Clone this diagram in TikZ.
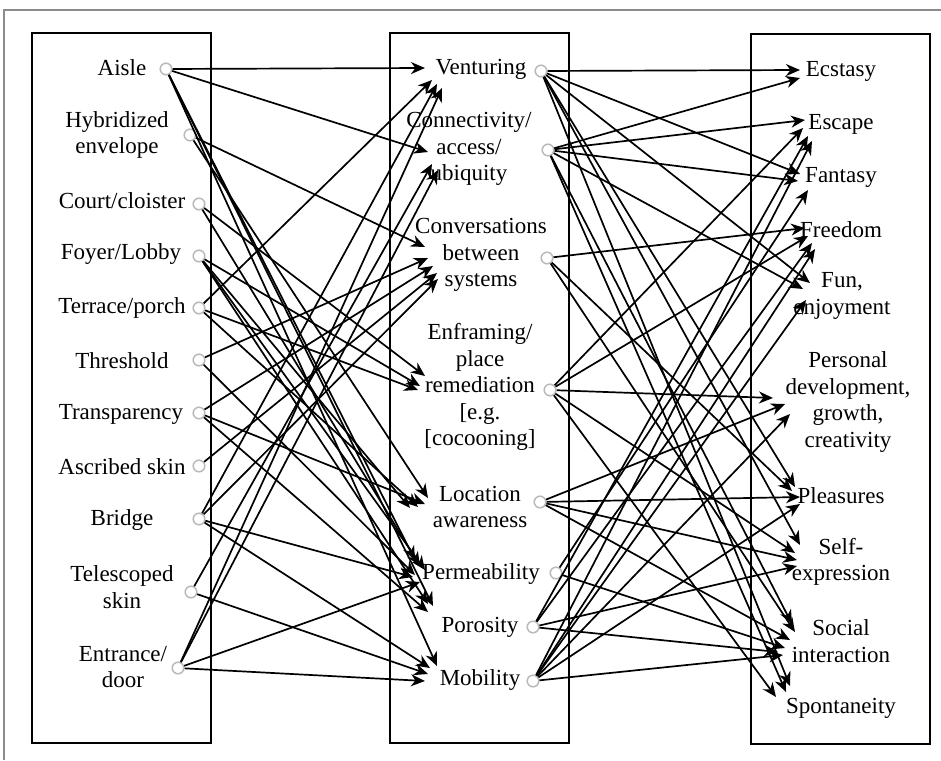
\documentclass[tikz,border=0pt]{standalone}
\usepackage{fontspec}
\setmainfont{Liberation Serif}
\usetikzlibrary{arrows.meta}
\definecolor{portgray}{RGB}{185,185,185}
\definecolor{framegray}{RGB}{140,140,140}
\newcommand\cn[4]{\draw[conn] (#1) -- ([shift={(#3,#4)}]#2);}
\begin{document}
\begin{tikzpicture}[x=0.5pt,y=-0.5pt,
  lbl/.style={align=center,font=\fontsize{11.5}{13.2}\selectfont,inner sep=0pt},
  port/.style={circle,draw=portgray,fill=white,line width=0.75pt,minimum size=5.8pt,inner sep=0pt},
  colbox/.style={draw=black,line width=1pt},
  conn/.style={line width=0.85pt,-{Stealth[length=7pt,width=6pt,inset=2.2pt]}}]
\useasboundingbox (0,0) rectangle (941,760);
\draw[framegray,line width=1pt] (4,760) -- (4,10) -- (941,10);
% columns
\draw[colbox] (32,33) rectangle (211,743);
\draw[colbox] (390,33) rectangle (569,743);
\draw[colbox] (751,34) rectangle (930,744);
% left labels
\node[lbl] (lA)   at (122,68)  {Aisle};
\node[lbl] (lHyb) at (117,135) {Hybridized\\envelope};
\node[lbl] (lCou) at (122,201) {Court/cloister};
\node[lbl] (lFoy) at (121,254) {Foyer/Lobby};
\node[lbl] (lTer) at (122,308) {Terrace/porch};
\node[lbl] (lThr) at (122,361) {Threshold};
\node[lbl] (lTra) at (121,414) {Transparency};
\node[lbl] (lAsc) at (122,467) {Ascribed skin};
\node[lbl] (lBri) at (122,520) {Bridge};
\node[lbl] (lTel) at (122,587) {Telescoped\\skin};
\node[lbl] (lEnt) at (123,667) {Entrance/\\door};
% middle labels
\node[lbl] (mVen)  at (481,69)  {Venturing};
\node[lbl] (mCon)  at (469,149) {Connectivity/\\access/\\ubiquity};
\node[lbl] (mConv) at (481,255) {Conversations\\between\\systems};
\node[lbl] (mEnf)  at (480,387) {Enframing/\\place\\remediation\\{}[e.g.\\{}[cocooning]};
\node[lbl] (mLoc)  at (480,507) {Location\\awareness};
\node[lbl] (mPerm) at (481,574) {Permeability};
\node[lbl] (mPor)  at (480,627) {Porosity};
\node[lbl] (mMob)  at (480,680) {Mobility};
% right labels
\node[lbl] (rEcs) at (841,71)  {Ecstasy};
\node[lbl] (rEsc) at (841,124) {Escape};
\node[lbl] (rFan) at (841,177) {Fantasy};
\node[lbl] (rFre) at (841,230) {Freedom};
\node[lbl] (rFun) at (842,296) {Fun,\\enjoyment};
\node[lbl] (rPer) at (848,402) {Personal\\development,\\growth,\\creativity};
\node[lbl] (rPle) at (841,496) {Pleasures};
\node[lbl] (rSel) at (841,562) {Self-\\expression};
\node[lbl] (rSoc) at (841,641) {Social\\interaction};
\node[lbl] (rSpo) at (841,708) {Spontaneity};
% ports
\node[port] (pA)   at (166,69)  {};
\node[port] (pHyb) at (190,135) {};
\node[port] (pCou) at (199,204) {};
\node[port] (pFoy) at (199,256) {};
\node[port] (pTer) at (199,308) {};
\node[port] (pThr) at (199,360) {};
\node[port] (pTra) at (199,413) {};
\node[port] (pAsc) at (199,466) {};
\node[port] (pBri) at (199,519) {};
\node[port] (pTel) at (191,592) {};
\node[port] (pEnt) at (178,668) {};
\node[port] (qVen)  at (541,71)  {};
\node[port] (qCon)  at (548,150) {};
\node[port] (qConv) at (547,258) {};
\node[port] (qEnf)  at (550,390) {};
\node[port] (qLoc)  at (540,502) {};
\node[port] (qPerm) at (556,573) {};
\node[port] (qPor)  at (533,627) {};
\node[port] (qMob)  at (533,681) {};
% arrow target anchors
\coordinate (iVen)  at (430,76);
\coordinate (iCon)  at (430,158);
\coordinate (iConv) at (430,262);
\coordinate (iEnf)  at (422,384);
\coordinate (iLoc)  at (420,505);
\coordinate (iPerm) at (418,572);
\coordinate (iPor)  at (432,610);
\coordinate (iMob)  at (432,672);
\coordinate (oEcs)  at (800,74);
\coordinate (oEsc)  at (808,130);
\coordinate (oFan)  at (803,180);
\coordinate (oFre)  at (810,238);
\coordinate (oFun)  at (806,290);
\coordinate (oPer)  at (783,405);
\coordinate (oPle)  at (797,495);
\coordinate (oSel)  at (798,555);
\coordinate (oSoc)  at (787,643);
\coordinate (oSpo)  at (783,693);
% left -> middle
\cn{pA}{iVen}{-5}{-8}
\cn{pA}{iCon}{-2}{-6}
\cn{pA}{iPerm}{-3}{-12}
\cn{pA}{iPor}{1}{-4}
\cn{pA}{iMob}{5}{-6}
\cn{pHyb}{iConv}{-5}{-15}
\cn{pHyb}{iLoc}{8}{-7}
\cn{pCou}{iEnf}{3}{-8}
\cn{pCou}{iPerm}{2}{-6}
\cn{pFoy}{iEnf}{-2}{2}
\cn{pFoy}{iLoc}{-10}{3}
\cn{pFoy}{iPerm}{7}{-2}
\cn{pFoy}{iPor}{-4}{-6}
\cn{pTer}{iVen}{2}{4}
\cn{pTer}{iEnf}{-4}{6}
\cn{pTer}{iLoc}{-2}{2}
\cn{pThr}{iConv}{-2}{-4}
\cn{pThr}{iPerm}{-3}{3}
\cn{pTra}{iConv}{3}{4}
\cn{pTra}{iLoc}{5}{-1}
\cn{pTra}{iPor}{-4}{2}
\cn{pAsc}{iConv}{7}{11}
\cn{pBri}{iVen}{7}{8}
\cn{pBri}{iConv}{8}{17}
\cn{pBri}{iPerm}{-5}{5}
\cn{pBri}{iMob}{-2}{-4}
\cn{pTel}{iCon}{2}{6}
\cn{pTel}{iMob}{-4}{2}
\cn{pEnt}{iVen}{12}{12}
\cn{pEnt}{iCon}{8}{12}
\cn{pEnt}{iPerm}{2}{10}
\cn{pEnt}{iMob}{-7}{9}
% middle -> right
\cn{qVen}{oEcs}{0}{-4}
\cn{qVen}{oFan}{-3}{-6}
\cn{qVen}{oFun}{4}{-7}
\cn{qVen}{oPle}{-2}{-8}
\cn{qVen}{oSel}{2}{-10}
\cn{qVen}{oSpo}{7}{-7}
\cn{qCon}{oEcs}{0}{4}
\cn{qCon}{oEsc}{-3}{-10}
\cn{qCon}{oFan}{-5}{1}
\cn{qCon}{oFun}{-3}{-1}
\cn{qCon}{oSoc}{5}{-19}
\cn{qCon}{oSpo}{3}{-1}
\cn{qConv}{oFre}{-5}{-10}
\cn{qConv}{oPle}{-5}{-4}
\cn{qConv}{oSoc}{8}{-11}
\cn{qEnf}{oEsc}{-5}{-2}
\cn{qEnf}{oFre}{-2}{-2}
\cn{qEnf}{oPer}{-10}{-7}
\cn{qEnf}{oSel}{-3}{-2}
\cn{qEnf}{oSpo}{-7}{4}
\cn{qLoc}{oPer}{2}{-1}
\cn{qLoc}{oPle}{3}{2}
\cn{qLoc}{oSel}{-1}{5}
\cn{qLoc}{oSoc}{3}{-3}
\cn{qPerm}{oSoc}{-2}{5}
\cn{qPerm}{oFan}{5}{10}
\cn{qPor}{oEsc}{0}{6}
\cn{qPor}{oFre}{2}{5}
\cn{qPor}{oSel}{-1}{11}
\cn{qPor}{oSoc}{-9}{9}
\cn{qMob}{oEsc}{4}{11}
\cn{qMob}{oFre}{5}{11}
\cn{qMob}{oFun}{0}{10}
\cn{qMob}{oPer}{7}{9}
\cn{qMob}{oPle}{3}{9}
\cn{qMob}{oSoc}{-4}{12}
\end{tikzpicture}
\end{document}
